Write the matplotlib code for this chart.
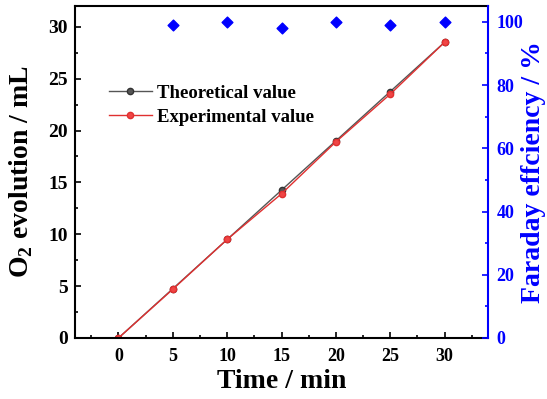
import matplotlib
matplotlib.use('Agg')
import matplotlib.pyplot as plt
from matplotlib.ticker import MultipleLocator

plt.rcParams['font.family'] = ['Liberation Serif', 'DejaVu Serif']
plt.rcParams['font.weight'] = 'bold'
plt.rcParams['mathtext.fontset'] = 'custom'
plt.rcParams['mathtext.rm'] = 'Liberation Serif:bold'
plt.rcParams['mathtext.bf'] = 'Liberation Serif:bold'

# data
time = [0, 5, 10, 15, 20, 25, 30]
theoretical = [0, 4.75, 9.5, 14.25, 19.0, 23.75, 28.5]
experimental = [0, 4.7, 9.5, 13.9, 18.9, 23.5, 28.5]
fe_time = [5, 10, 15, 20, 25, 30]
faraday = [99, 100, 98, 100, 99, 100]

fig = plt.figure(figsize=(5.47, 3.99), dpi=100)
ax = fig.add_axes([75/547, 61/399, 413/547, 332/399])

ax.plot(time, theoretical, color='#555555', lw=1, marker='o', ms=4.5,
        mfc='#555555', mec='#333333', label='Theoretical value')
ax.plot(time, experimental, color='#e03030', lw=1, marker='o', ms=4.5,
        mfc='#f04545', mec='#e03030', label='Experimental value')

ax.set_xlim(-4, 34)
ax.set_ylim(0, 32)
ax.xaxis.set_major_locator(MultipleLocator(5))
ax.xaxis.set_minor_locator(MultipleLocator(2.5))
ax.yaxis.set_major_locator(MultipleLocator(5))
ax.yaxis.set_minor_locator(MultipleLocator(2.5))
ax.tick_params(which='both', direction='in', labelsize=13, width=1.2)
ax.tick_params(axis='x', pad=7)
ax.tick_params(axis='y', labelsize=14, pad=5)
ax.tick_params(which='major', length=4)
ax.tick_params(which='minor', length=2.5)
ax.tick_params(axis='y', right=False)
for s in ['left', 'bottom', 'top']:
    ax.spines[s].set_linewidth(1.5)
ax.spines['right'].set_visible(False)

ax.set_xlabel('Time / min', fontsize=20, fontweight='bold')
ax.xaxis.set_label_coords(0.5, -0.094)
ax.set_ylabel(r'O$_\mathbf{2}$ evolution / mL', fontsize=20, fontweight='bold')
ax.yaxis.set_label_coords(-0.097, 0.5)

leg = ax.legend(loc='upper left', bbox_to_anchor=(0.065, 0.785), frameon=False,
                fontsize=13.5, handlelength=2.25, handletextpad=0.3,
                borderaxespad=0, labelspacing=0.35)

ax2 = ax.twinx()
ax2.scatter(fe_time, faraday, marker='D', s=30, color='#0000ff', zorder=3)
ax2.set_ylim(0, 105)
ax2.yaxis.set_major_locator(MultipleLocator(20))
ax2.yaxis.set_minor_locator(MultipleLocator(10))
ax2.tick_params(which='both', direction='in', labelsize=13, colors='#0000ff', width=1.2, pad=6)
ax2.tick_params(which='major', length=4)
ax2.tick_params(which='minor', length=2.5)
ax2.spines['right'].set_color('#0000ff')
ax2.spines['right'].set_linewidth(1.5)
for s in ['left', 'bottom', 'top']:
    ax2.spines[s].set_visible(False)
ax2.set_ylabel('Faraday effciency / %', fontsize=20, fontweight='bold', color='#0000ff')
ax2.yaxis.set_label_coords(1.08, 0.5)

fig.savefig('out.png', dpi=100)
